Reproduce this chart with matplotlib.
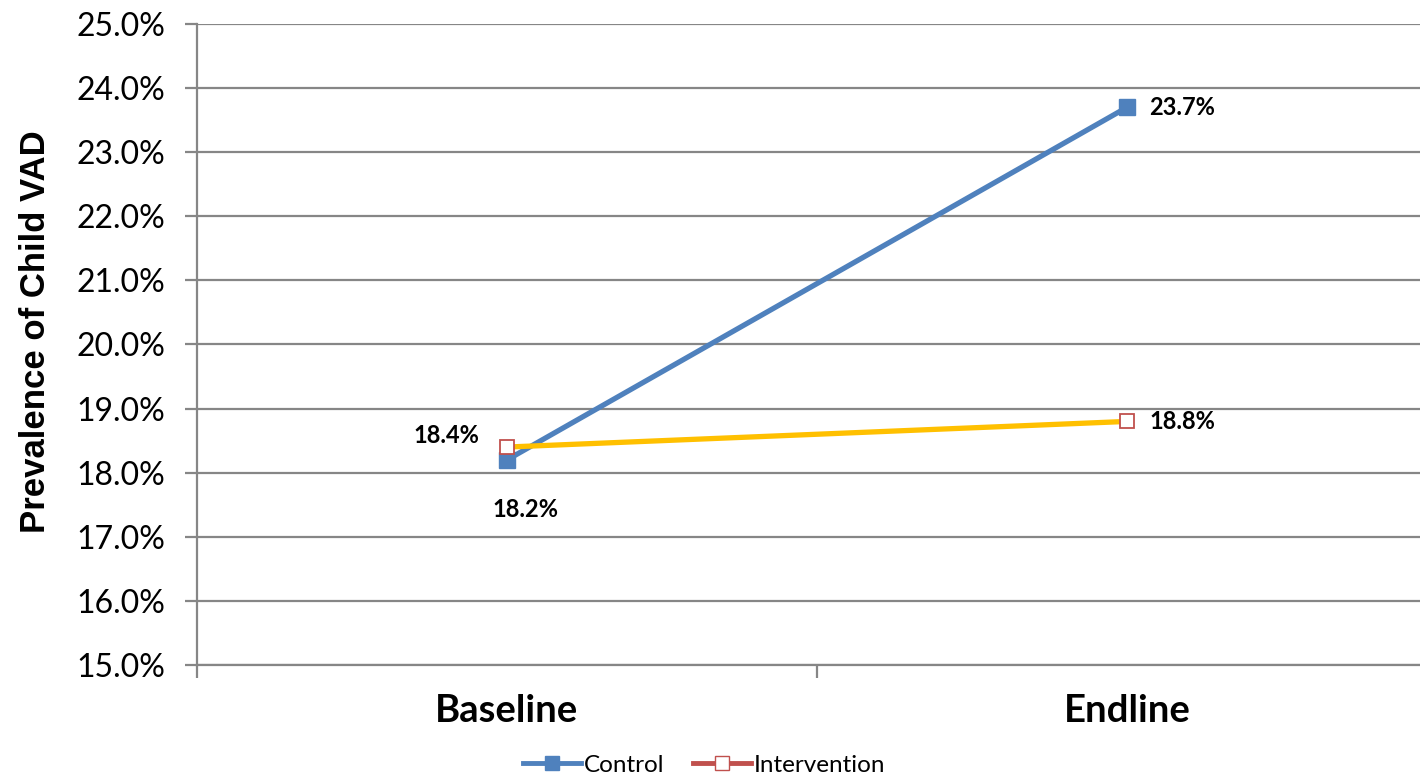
import matplotlib
matplotlib.use('Agg')
import matplotlib.pyplot as plt
from matplotlib.lines import Line2D
from matplotlib.ticker import FuncFormatter, MultipleLocator

# data
periods = ['Baseline', 'Endline']
control = [18.2, 23.7]
intervention = [18.4, 18.8]

calibri_like = 'Lato'
grid_col = '#868686'

fig = plt.figure(figsize=(14.2, 7.76), dpi=100)
ax = fig.add_axes([197 / 1420, 111 / 776, 1240 / 1420, 641 / 776])

x = range(len(periods))
ax.plot(x, control, color='#4F81BD', lw=3.8, marker='s', ms=11,
        mfc='#4F81BD', mec='#4F81BD', zorder=3)
ax.plot(x, intervention, color='#FFC000', lw=3.8, zorder=4)
ax.plot(x, intervention, ls='none', marker='s', ms=10, mfc='white',
        mec='#C0504D', mew=1.3, zorder=5)

# data labels
lab = dict(fontsize=17, fontweight='bold', family=calibri_like)
ax.annotate('18.2%', (0, control[0]), xytext=(18, -50), textcoords='offset pixels',
            ha='center', va='center', **lab)
ax.annotate('23.7%', (1, control[1]), xytext=(22, 0), textcoords='offset pixels',
            ha='left', va='center', **lab)
ax.annotate('18.4%', (0, intervention[0]), xytext=(-28, 12), textcoords='offset pixels',
            ha='right', va='center', **lab)
ax.annotate('18.8%', (1, intervention[1]), xytext=(22, 0), textcoords='offset pixels',
            ha='left', va='center', **lab)

ax.set_xlim(-0.5, 1.5)
ax.set_ylim(15, 25)
ax.yaxis.set_major_locator(MultipleLocator(1))
ax.yaxis.set_major_formatter(FuncFormatter(lambda v, p: f'{v:.1f}%'))
ax.grid(axis='y', color=grid_col, lw=1.6)
ax.set_axisbelow(True)

ax.set_xticks(x)
ax.set_xticklabels(periods, fontsize=27.5, fontweight='bold', family=calibri_like)
ax.set_xticks([-0.5, 0.5, 1.5], minor=True)
ax.tick_params(axis='x', which='major', length=0, pad=21)
ax.tick_params(axis='x', which='minor', length=9, width=1.6, color=grid_col)
ax.tick_params(axis='y', length=9, width=1.6, color=grid_col, pad=14)
for t in ax.get_yticklabels():
    t.set_fontsize(23)
    t.set_family(calibri_like)

for s in ['top', 'right']:
    ax.spines[s].set_visible(False)
ax.spines['left'].set_color(grid_col)
ax.spines['left'].set_linewidth(1.6)
ax.spines['bottom'].set_color(grid_col)
ax.spines['bottom'].set_linewidth(1.6)

ax.set_ylabel('Prevalence of Child VAD', fontsize=25, fontweight='bold',
              family='Liberation Sans')
ax.yaxis.set_label_coords(-0.117, 0.52)

handles = [
    Line2D([], [], color='#4F81BD', lw=3.5, marker='s', ms=10, mfc='#4F81BD', mec='#4F81BD'),
    Line2D([], [], color='#C0504D', lw=3.5, marker='s', ms=10, mfc='white', mec='#C0504D'),
]
fig.legend(handles, ['Control', 'Intervention'], loc='center', bbox_to_anchor=(704 / 1420, 1 - 765 / 776),
           ncol=2, frameon=False, prop={'family': calibri_like, 'size': 17.5},
           handlelength=2.4, handletextpad=0.1, columnspacing=1.2)

fig.savefig('out.png', dpi=100)
